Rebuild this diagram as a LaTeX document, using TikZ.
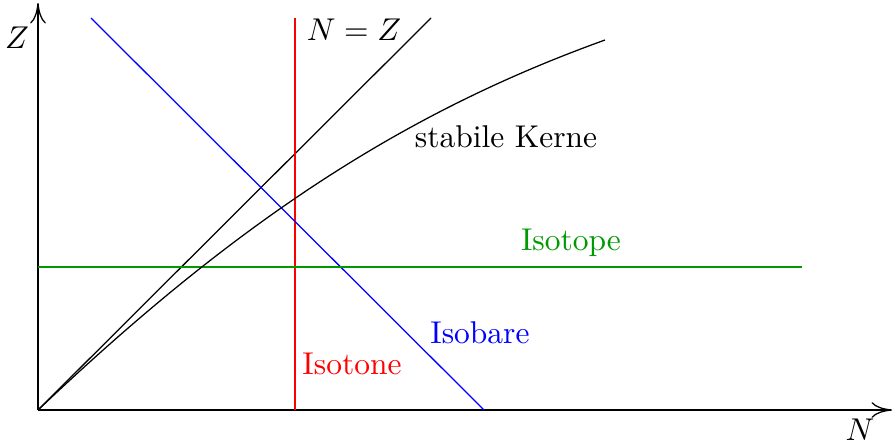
\documentclass[tikz,border=0pt]{standalone}
\usetikzlibrary{arrows.meta}
\begin{document}
\begin{tikzpicture}[x=0.3175pt,y=-0.3175pt,
  lbl/.style={inner sep=0pt},
  axis/.style={-{To[length=6.5pt,width=5pt]},black}]
\useasboundingbox (0,0) rectangle (894,443);
% coordinates
\coordinate (O) at (38,410);
\coordinate (xend) at (892,410);
\coordinate (yend) at (38,3);
\coordinate (nz) at (431,18);
\coordinate (redtop) at (295,18);
\coordinate (redbot) at (295,410);
\coordinate (bluetop) at (91,18);
\coordinate (bluebot) at (484,410);
\coordinate (greenL) at (38,267);
\coordinate (greenR) at (802,267);
\coordinate (stabEnd) at (605,40);
% axes
\draw[axis] (O) -- (xend);
\draw[axis] (O) -- (yend);
\node[lbl] (Zl) at (17,38) {$Z$};
\node[lbl] (Nl) at (860,430) {$N$};
% lines
\draw (O) -- (nz);
\node[lbl] (nzl) at (354,30) {$N=Z$};
\draw[red] (redtop) -- (redbot);
\node[lbl,red] (isotone) at (352,364) {Isotone};
\draw[blue] (bluetop) -- (bluebot);
\node[lbl,blue] (isobare) at (480,333) {Isobare};
\draw[green!60!black] (greenL) -- (greenR);
\node[lbl,green!60!black] (isotope) at (571,243) {Isotope};
\draw (O) .. controls (238,220) and (405,112) .. (stabEnd);
\node[lbl] (stab) at (506,137) {stabile Kerne};
\end{tikzpicture}
\end{document}
